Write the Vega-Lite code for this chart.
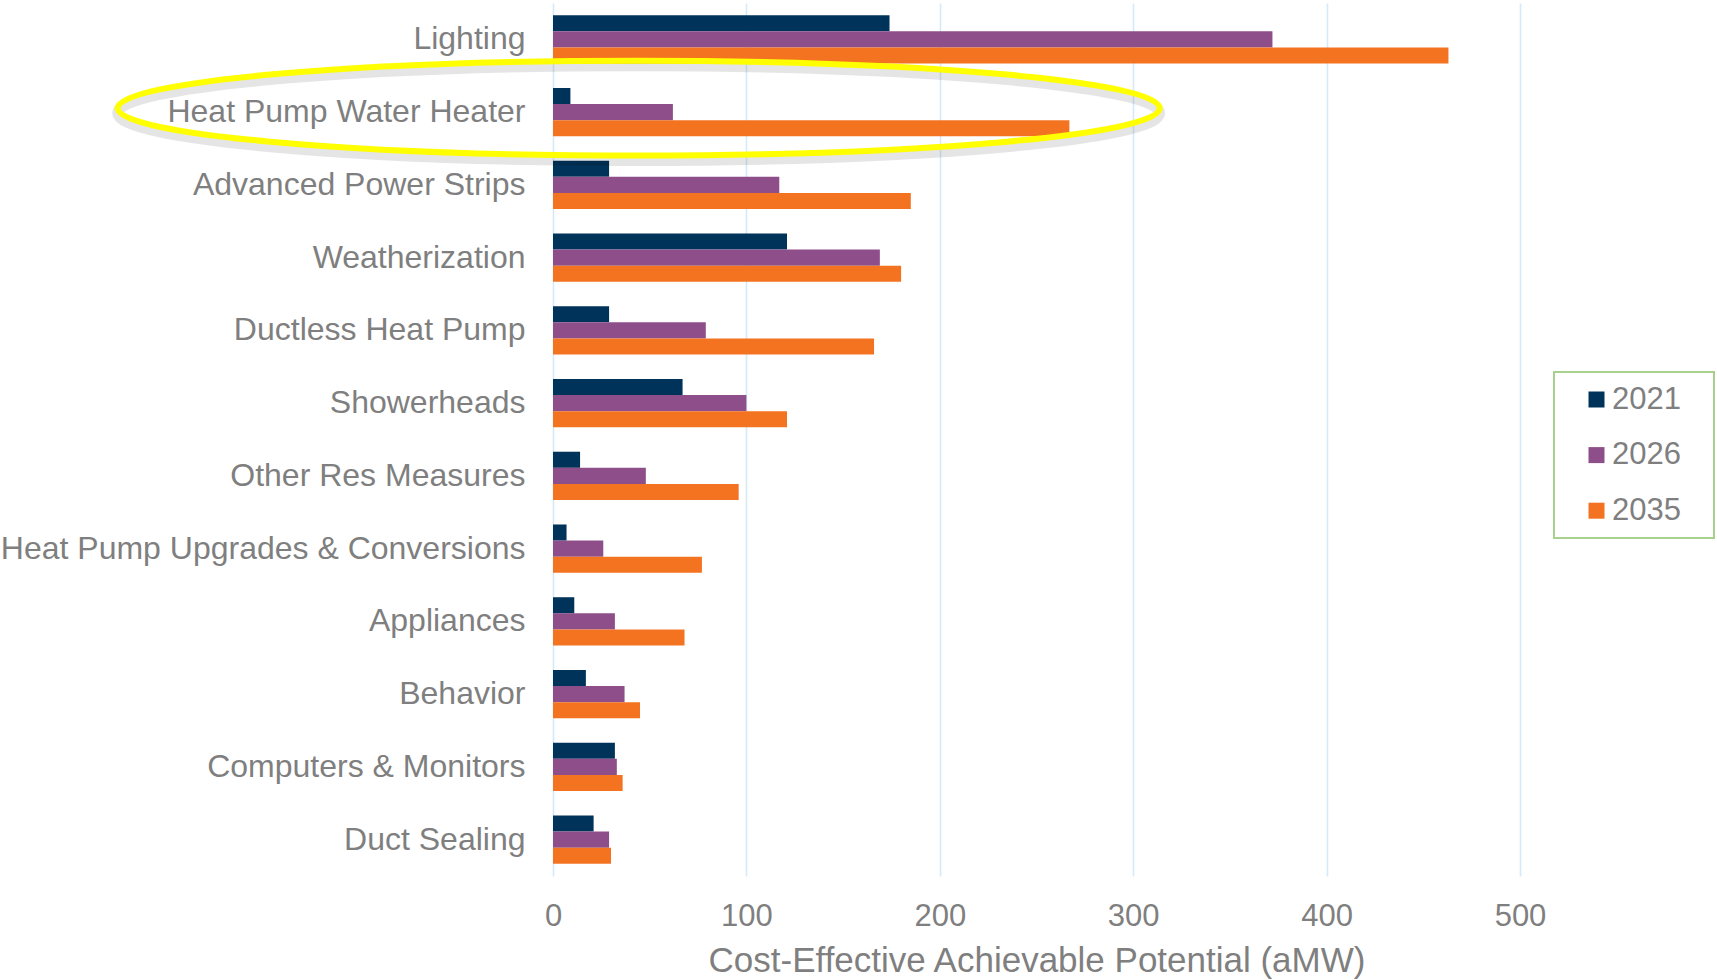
{
  "$schema": "https://vega.github.io/schema/vega-lite/v6.json",
  "autosize": "none",
  "padding": {"left": 553, "top": 3, "right": 197, "bottom": 104},
  "width": 967,
  "height": 873,
  "background": "white",
  "config": {
    "view": {"stroke": null},
    "font": "Liberation Sans",
    "axis": {"labelColor": "#7f7f7f", "titleColor": "#7f7f7f", "labelFont": "Liberation Sans", "titleFont": "Liberation Sans", "titleFontWeight": "normal"},
    "legend": {"labelColor": "#7f7f7f", "labelFont": "Liberation Sans"}
  },
  "datasets": {
    "bars": [
      {"measure": "Lighting", "year": "2021", "value": 174},
      {"measure": "Lighting", "year": "2026", "value": 372},
      {"measure": "Lighting", "year": "2035", "value": 463},
      {"measure": "Heat Pump Water Heater", "year": "2021", "value": 9},
      {"measure": "Heat Pump Water Heater", "year": "2026", "value": 62},
      {"measure": "Heat Pump Water Heater", "year": "2035", "value": 267},
      {"measure": "Advanced Power Strips", "year": "2021", "value": 29},
      {"measure": "Advanced Power Strips", "year": "2026", "value": 117},
      {"measure": "Advanced Power Strips", "year": "2035", "value": 185},
      {"measure": "Weatherization", "year": "2021", "value": 121},
      {"measure": "Weatherization", "year": "2026", "value": 169},
      {"measure": "Weatherization", "year": "2035", "value": 180},
      {"measure": "Ductless Heat Pump", "year": "2021", "value": 29},
      {"measure": "Ductless Heat Pump", "year": "2026", "value": 79},
      {"measure": "Ductless Heat Pump", "year": "2035", "value": 166},
      {"measure": "Showerheads", "year": "2021", "value": 67},
      {"measure": "Showerheads", "year": "2026", "value": 100},
      {"measure": "Showerheads", "year": "2035", "value": 121},
      {"measure": "Other Res Measures", "year": "2021", "value": 14},
      {"measure": "Other Res Measures", "year": "2026", "value": 48},
      {"measure": "Other Res Measures", "year": "2035", "value": 96},
      {"measure": "Heat Pump Upgrades & Conversions", "year": "2021", "value": 7},
      {"measure": "Heat Pump Upgrades & Conversions", "year": "2026", "value": 26},
      {"measure": "Heat Pump Upgrades & Conversions", "year": "2035", "value": 77},
      {"measure": "Appliances", "year": "2021", "value": 11},
      {"measure": "Appliances", "year": "2026", "value": 32},
      {"measure": "Appliances", "year": "2035", "value": 68},
      {"measure": "Behavior", "year": "2021", "value": 17},
      {"measure": "Behavior", "year": "2026", "value": 37},
      {"measure": "Behavior", "year": "2035", "value": 45},
      {"measure": "Computers & Monitors", "year": "2021", "value": 32},
      {"measure": "Computers & Monitors", "year": "2026", "value": 33},
      {"measure": "Computers & Monitors", "year": "2035", "value": 36},
      {"measure": "Duct Sealing", "year": "2021", "value": 21},
      {"measure": "Duct Sealing", "year": "2026", "value": 29},
      {"measure": "Duct Sealing", "year": "2035", "value": 30}
    ],
    "highlight": [
      {"measure": "Heat Pump Water Heater", "value": 44.3}
    ]
  },
  "encoding": {
    "y": {
      "field": "measure",
      "type": "nominal",
      "sort": ["Lighting", "Heat Pump Water Heater", "Advanced Power Strips", "Weatherization", "Ductless Heat Pump", "Showerheads", "Other Res Measures", "Heat Pump Upgrades & Conversions", "Appliances", "Behavior", "Computers & Monitors", "Duct Sealing"],
      "scale": {"paddingInner": 0.336, "paddingOuter": 0.168},
      "axis": {"title": null, "ticks": false, "domain": false, "grid": false, "labelFontSize": 32, "labelPadding": 28, "labelLimit": 600}
    },
    "x": {
      "field": "value",
      "type": "quantitative",
      "scale": {"domain": [0, 500], "nice": false},
      "axis": {"title": "Cost-Effective Achievable Potential (aMW)", "values": [0, 100, 200, 300, 400, 500], "ticks": false, "domain": false, "grid": true, "gridColor": "#d5eaf8", "gridWidth": 1.6, "labelFontSize": 31, "labelPadding": 25, "labelFlush": false, "titleFontSize": 35, "titlePadding": 12}
    }
  },
  "layer": [
    {
      "data": {"name": "bars"},
      "mark": {"type": "bar"},
      "encoding": {
        "yOffset": {"field": "year", "type": "nominal"},
        "color": {
          "field": "year",
          "type": "nominal",
          "scale": {"domain": ["2021", "2026", "2035"], "range": ["#003359", "#8d4e8a", "#f37321"]},
          "legend": {
            "title": " ",
            "titleOrient": "right",
            "titleFontSize": 1,
            "titlePadding": 21,
            "orient": "none",
            "legendX": 1001,
            "legendY": 369,
            "symbolType": "square",
            "symbolSize": 256,
            "symbolStrokeWidth": 0,
            "symbolOffset": 15,
            "labelFontSize": 31,
            "labelOffset": 0,
            "rowPadding": 23.6,
            "padding": 12,
            "strokeColor": "#a9d18e",
            "fillColor": "white",
            "encode": {"legend": {"update": {"strokeWidth": {"value": 2}}}}
          }
        }
      }
    },
    {
      "data": {"name": "highlight"},
      "mark": {
        "type": "point",
        "shape": "M-1,0C-1,-0.0503,-0.5523,-0.091,0,-0.091C0.5523,-0.091,1,-0.0503,1,0C1,0.0503,0.5523,0.091,0,0.091C-0.5523,0.091,-1,0.0503,-1,0Z",
        "size": 1085764,
        "filled": false,
        "stroke": "#000000",
        "strokeOpacity": 0.1,
        "strokeWidth": 11,
        "opacity": 1,
        "yOffset": 1
      },
      "encoding": {}
    },
    {
      "data": {"name": "highlight"},
      "mark": {
        "type": "point",
        "shape": "M-1,0C-1,-0.0503,-0.5523,-0.091,0,-0.091C0.5523,-0.091,1,-0.0503,1,0C1,0.0503,0.5523,0.091,0,0.091C-0.5523,0.091,-1,0.0503,-1,0Z",
        "size": 1085764,
        "filled": false,
        "stroke": "#ffff00",
        "strokeWidth": 6,
        "opacity": 1,
        "yOffset": -4
      },
      "encoding": {}
    }
  ]
}
